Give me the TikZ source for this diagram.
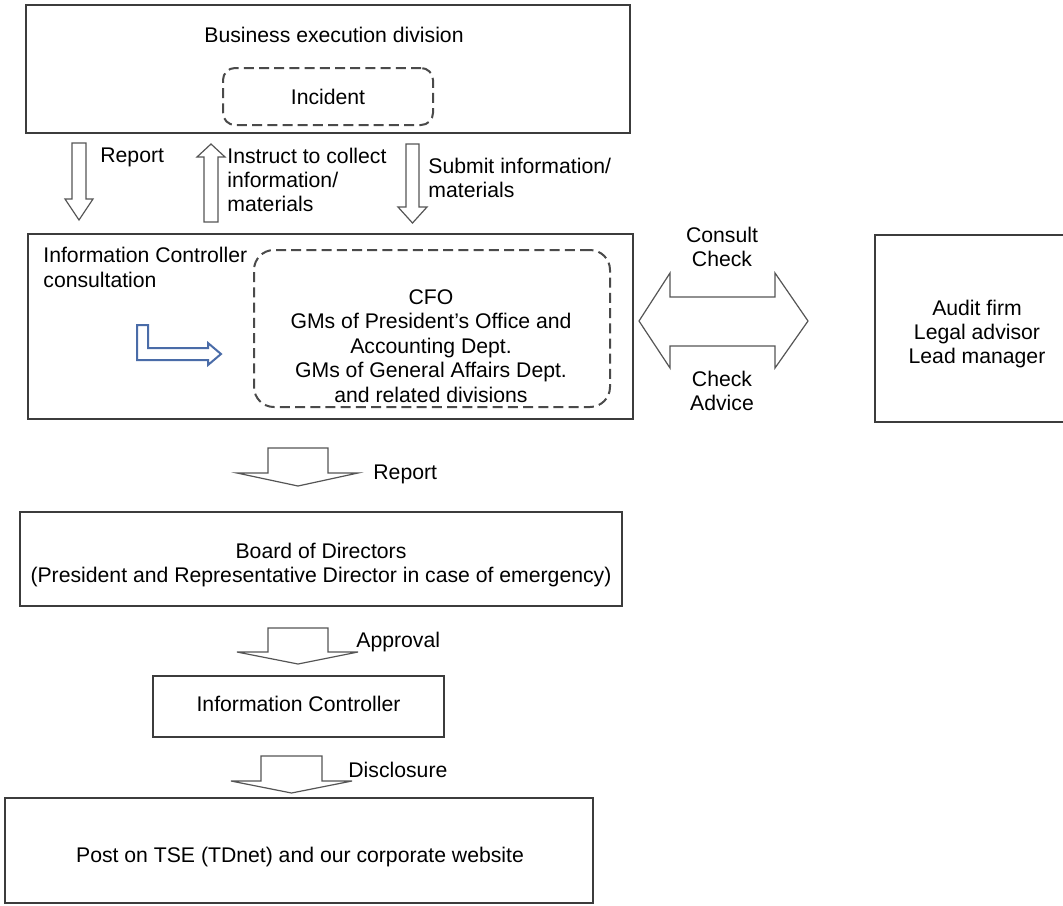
\documentclass[tikz,border=0pt]{standalone}
\usepackage{fontspec}
\setmainfont{Liberation Sans}
\newcommand\diagfont{\fontsize{10.6pt}{12.2pt}\selectfont}
\definecolor{boxc}{HTML}{3C3C3C}
\definecolor{dashc}{HTML}{4A4A4A}
\definecolor{arrc}{HTML}{555555}
\definecolor{bluec}{HTML}{4A6CA8}
\begin{document}
\begin{tikzpicture}[x=0.5pt,y=-0.5pt,
  box/.style={draw=boxc, line width=1pt, fill=white, inner sep=0pt, align=center, font=\diagfont},
  dbox/.style={draw=dashc, line width=1pt, dash pattern=on 5pt off 2.6pt, inner sep=0pt},
  txt/.style={inner sep=0pt, align=left, font=\diagfont},
  ctxt/.style={inner sep=0pt, align=center, font=\diagfont},
  blk/.style={draw=arrc, line width=0.6pt, fill=white, line join=miter},
  blueblk/.style={draw=bluec, line width=1pt, fill=white, line join=miter}]
\useasboundingbox (0,0) rectangle (1063,905);

% boxes
\node[box, minimum width=302pt, minimum height=64pt] (bed) at (328,69) {};
\node[ctxt] (tbed) at (334,35) {Business execution division};
\node[dbox, rounded corners=6pt, minimum width=105pt, minimum height=28.5pt, font=\diagfont] (inc) at (328,96.5) {Incident};

\node[box, minimum width=302.5pt, minimum height=92.5pt] (mid) at (330.5,326.5) {};
\node[dbox, rounded corners=10pt, minimum width=178pt, minimum height=78.5pt] (cfo) at (432,328.5) {};
\node[ctxt] (tcfo) at (431,346) {CFO\\GMs of President’s Office and\\Accounting Dept.\\GMs of General Affairs Dept.\\and related divisions};
\node[txt, anchor=west] (tic) at (43,267.5) {Information Controller\\consultation};

\node[box, minimum width=102pt, minimum height=93.5pt] (ext) at (977,328.5) {};
\node[ctxt] (text) at (977,334) {Audit firm\\Legal advisor\\Lead manager};

\node[box, minimum width=301pt, minimum height=47pt] (bod) at (321,559) {};
\node[ctxt] (tbod) at (321,565) {Board of Directors\\(President and Representative Director in case of emergency)};
\node[box, minimum width=145.5pt, minimum height=30.5pt] (ictl) at (298.5,706.5) {};
\node[ctxt] (tictl) at (298.5,704) {Information Controller};
\node[box, minimum width=294pt, minimum height=52.5pt] (post) at (299,850.5) {};
\node[ctxt] (tpost) at (300,857) {Post on TSE (TDnet) and our corporate website};

% thin hollow arrows between top and middle boxes
\draw[blk] (72,143) -- (86,143) -- (86,199) -- (93,199) -- (79,220) -- (65,199) -- (72,199) -- cycle;
\draw[blk] (204,222) -- (218,222) -- (218,157) -- (225,157) -- (211,144) -- (197,157) -- (204,157) -- cycle;
\draw[blk] (406,144) -- (419,144) -- (419,207) -- (427,207) -- (412.5,223) -- (398,207) -- (406,207) -- cycle;
\node[txt, anchor=west] (lrep1) at (100,157) {Report};
\node[txt, anchor=west] (lins) at (227,180) {Instruct to collect\\information/\\materials};
\node[txt, anchor=west] (lsub) at (428,178) {Submit information/\\materials};

% blue L arrow
\draw[blueblk] (137,325) -- (148,325) -- (148,348) -- (208,348) -- (208,343) -- (221,354) -- (208,365) -- (208,360) -- (137,360) -- cycle;

% double arrow
\draw[blk] (639,321) -- (670,273) -- (670,297) -- (775,297) -- (775,273) -- (808,321) -- (775,368) -- (775,346) -- (670,346) -- (670,368) -- cycle;
\node[ctxt] (lcons) at (722,247) {Consult\\Check};
\node[ctxt] (ladv) at (722,391) {Check\\Advice};

% broad down arrows
\draw[blk] (268,448) -- (328,448) -- (328,473) -- (358,473) -- (298,486) -- (237,473) -- (268,473) -- cycle;
\node[txt, anchor=west] (lrep2) at (373,474) {Report};
\draw[blk] (268,628) -- (328,628) -- (328,652) -- (358,652) -- (298,664) -- (237,652) -- (268,652) -- cycle;
\node[txt, anchor=west] (lapp) at (356,642) {Approval};
\draw[blk] (261,756) -- (322,756) -- (322,781) -- (352,781) -- (291.5,793) -- (231,781) -- (261,781) -- cycle;
\node[txt, anchor=west] (ldis) at (348,770) {Disclosure};
\end{tikzpicture}
\end{document}
